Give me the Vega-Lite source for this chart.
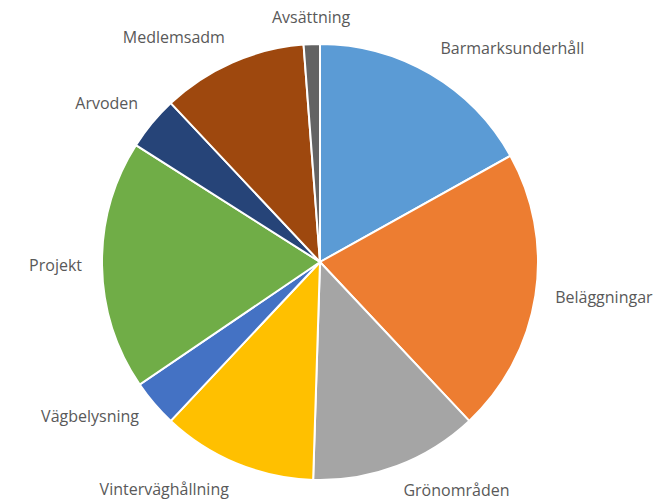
{
  "$schema": "https://vega.github.io/schema/vega-lite/v6.json",
  "width": 640,
  "height": 480,
  "autosize": "none",
  "padding": {"left": 0, "top": 22, "right": 19, "bottom": 0},
  "background": "white",
  "config": {"view": {"stroke": null}},
  "data": {
    "values": [
      {"i": 1, "kategori": "Barmarksunderhåll", "andel": 16.9},
      {"i": 2, "kategori": "Beläggningar", "andel": 21.1},
      {"i": 3, "kategori": "Grönområden", "andel": 12.5},
      {"i": 4, "kategori": "Vinterväghållning", "andel": 11.5},
      {"i": 5, "kategori": "Vägbelysning", "andel": 3.5},
      {"i": 6, "kategori": "Projekt", "andel": 18.5},
      {"i": 7, "kategori": "Arvoden", "andel": 4.0},
      {"i": 8, "kategori": "Medlemsadm", "andel": 10.8},
      {"i": 9, "kategori": "Avsättning", "andel": 1.2}
    ]
  },
  "encoding": {
    "theta": {"field": "andel", "type": "quantitative", "stack": true},
    "order": {"field": "i", "type": "quantitative"}
  },
  "layer": [
    {
      "mark": {"type": "arc", "outerRadius": 218, "stroke": "white", "strokeWidth": 2},
      "encoding": {
        "color": {
          "field": "kategori",
          "type": "nominal",
          "sort": null,
          "scale": {
            "domain": ["Barmarksunderhåll", "Beläggningar", "Grönområden", "Vinterväghållning", "Vägbelysning", "Projekt", "Arvoden", "Medlemsadm", "Avsättning"],
            "range": ["#5B9BD5", "#ED7D31", "#A5A5A5", "#FFC000", "#4472C4", "#70AD47", "#264478", "#9E480E", "#636363"]
          },
          "legend": null
        }
      }
    },
    {
      "mark": {"type": "text", "radius": 238, "align": "left", "baseline": "bottom", "font": "Open Sans", "fontSize": 16, "fill": "#595959"},
      "encoding": {"text": {"condition": {"test": "datum.i == 1", "field": "kategori", "type": "nominal"}, "value": ""}}
    },
    {
      "mark": {"type": "text", "radius": 238, "align": "left", "baseline": "middle", "font": "Open Sans", "fontSize": 16, "fill": "#595959"},
      "encoding": {"text": {"condition": {"test": "datum.i == 2", "field": "kategori", "type": "nominal"}, "value": ""}}
    },
    {
      "mark": {"type": "text", "radius": 236, "align": "left", "baseline": "top", "font": "Open Sans", "fontSize": 16, "fill": "#595959"},
      "encoding": {"text": {"condition": {"test": "datum.i == 3", "field": "kategori", "type": "nominal"}, "value": ""}}
    },
    {
      "mark": {"type": "text", "radius": 238, "align": "right", "baseline": "top", "font": "Open Sans", "fontSize": 16, "fill": "#595959"},
      "encoding": {"text": {"condition": {"test": "datum.i == 4", "field": "kategori", "type": "nominal"}, "value": ""}}
    },
    {
      "mark": {"type": "text", "radius": 238, "align": "right", "baseline": "middle", "font": "Open Sans", "fontSize": 16, "fill": "#595959"},
      "encoding": {"text": {"condition": {"test": "datum.i == 5 || datum.i == 6", "field": "kategori", "type": "nominal"}, "value": ""}}
    },
    {
      "mark": {"type": "text", "radius": 236, "align": "right", "baseline": "bottom", "font": "Open Sans", "fontSize": 16, "fill": "#595959"},
      "encoding": {"text": {"condition": {"test": "datum.i == 7 || datum.i == 8", "field": "kategori", "type": "nominal"}, "value": ""}}
    },
    {
      "mark": {"type": "text", "radius": 236, "align": "center", "baseline": "bottom", "font": "Open Sans", "fontSize": 16, "fill": "#595959"},
      "encoding": {"text": {"condition": {"test": "datum.i == 9", "field": "kategori", "type": "nominal"}, "value": ""}}
    }
  ]
}
